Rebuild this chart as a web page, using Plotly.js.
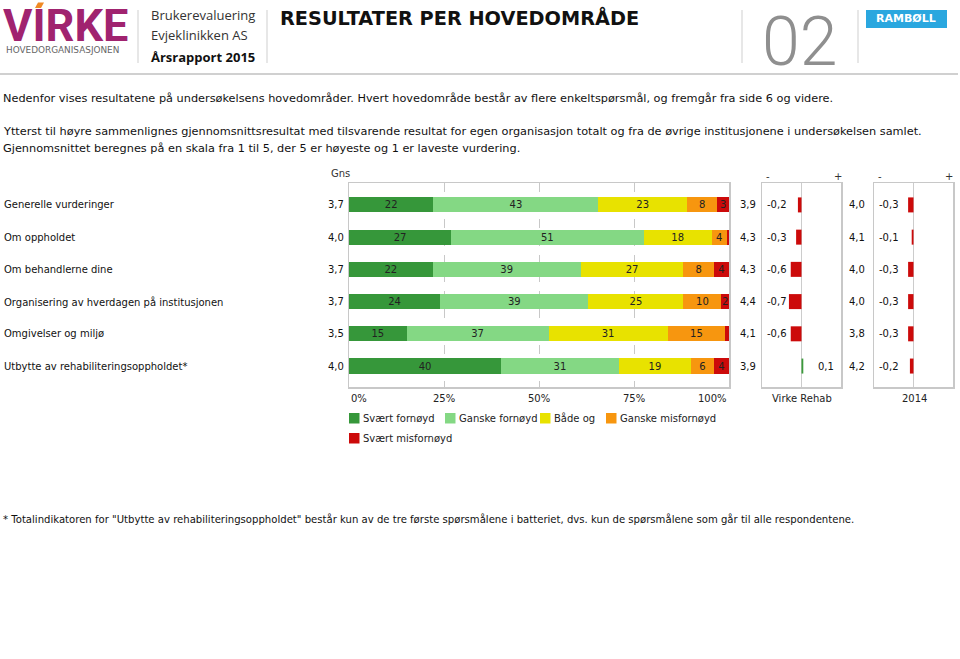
<!DOCTYPE html>
<html>
<head>
<meta charset="utf-8">
<script src="https://cdn.plot.ly/plotly-3.0.1.min.js"></script>
<style>html,body{margin:0;padding:0;background:#fff;}#chart{width:960px;height:659px;}</style>
</head>
<body>
<div id="chart"></div>
<script>
// ---- data ----
var categories = ["Generelle vurderinger", "Om oppholdet", "Om behandlerne dine",
  "Organisering av hverdagen på institusjonen", "Omgivelser og miljø", "Utbytte av rehabiliteringsoppholdet*"];
var seriesNames = ["Svært fornøyd", "Ganske fornøyd", "Både og", "Ganske misfornøyd", "Svært misfornøyd"];
var svaertFornoyd   = [22, 27, 22, 24, 15, 40];
var ganskeFornoyd   = [43, 51, 39, 39, 37, 31];
var baadeOg         = [23, 18, 27, 25, 31, 19];
var ganskeMisfornoyd= [8, 4, 8, 10, 15, 6];
var svaertMisfornoyd= [3, 0.6, 4, 2, 1, 4];
var gns        = [3.7, 4.0, 3.7, 3.7, 3.5, 4.0];
var virkeRehab = [3.9, 4.3, 4.3, 4.4, 4.1, 3.9];
var diffVirke  = [-0.2, -0.3, -0.6, -0.7, -0.6, 0.1];
var aar2014    = [4.0, 4.1, 4.0, 4.0, 3.8, 4.2];
var diff2014   = [-0.3, -0.1, -0.3, -0.3, -0.3, -0.2];
var pctTicks   = [0, 25, 50, 75, 100];
var pctTickLabels = ["0%", "25%", "50%", "75%", "100%"];

var colors = ["#36973a", "#84d884", "#e8e200", "#f7960f", "#cc0a0a"];
var FONT = "DejaVu Sans";
var W = 960, H = 659;
function px(x){ return x / W; }
function py(y){ return 1 - y / H; }
function fmt(v){ return v.toFixed(1).replace('.', ','); }

var series = [svaertFornoyd, ganskeFornoyd, baadeOg, ganskeMisfornoyd, svaertMisfornoyd];
var traces = [];
series.forEach(function(vals, k){
  traces.push({
    type: 'bar', orientation: 'h', name: seriesNames[k],
    x: vals, y: categories, xaxis: 'x', yaxis: 'y',
    width: 0.47,
    marker: {color: colors[k], line: {width: 0}},
    text: vals.map(function(v){ return v >= 2 ? String(Math.round(v)) : ''; }),
    textposition: 'inside', insidetextanchor: 'middle', constraintext: 'none', textangle: 0,
    textfont: {family: FONT, size: 10, color: '#222'},
    hoverinfo: 'skip', showlegend: false, cliponaxis: false
  });
});

function diffTraces(diffs, xa, ya){
  var out = [];
  [[function(v){return v < 0;}, '#cc0a0a'], [function(v){return v >= 0;}, '#3b9a3b']].forEach(function(p){
    var xs = [], ys = [];
    diffs.forEach(function(v, i){ if (p[0](v)) { xs.push(0, v, null); ys.push(categories[i], categories[i], null); } });
    out.push({type: 'scatter', mode: 'lines', x: xs, y: ys, xaxis: xa, yaxis: ya,
      line: {color: p[1], width: 15}, hoverinfo: 'skip', showlegend: false});
  });
  return out;
}
traces = traces.concat(diffTraces(diffVirke, 'x2', 'y2'), diffTraces(diff2014, 'x3', 'y3'));

var ann = [];
function A(text, x, y, o){
  o = o || {};
  var a = {text: text, x: px(x), y: py(y), xref: 'paper', yref: 'paper', showarrow: false,
    xanchor: o.xa || 'left', yanchor: o.ya || 'middle',
    font: {family: o.family || FONT, size: o.size || 10, color: o.color || '#111', weight: o.weight || 'normal'}};
  if (o.h) { a.height = o.h; a.valign = 'middle'; }
  ann.push(a);
}
// header
A('VIRKE', 1, 26, {family: 'Roboto', size: 45, weight: 'bold', color: '#a0236f', h: 37});
A('HOVEDORGANISASJONEN', 4, 50, {size: 8.9, color: '#666'});
A('Brukerevaluering', 149, 15, {family: 'Open Sans', size: 13, color: '#333'});
A('Evjeklinikken AS', 149, 35, {family: 'Open Sans', size: 13, color: '#333'});
A('Årsrapport 2015', 149, 57, {family: 'Open Sans', size: 13, weight: 'bold', color: '#111'});
A('RESULTATER PER HOVEDOMRÅDE', 278, 18, {family: 'DejaVu Sans', size: 19.3, weight: 'bold', color: '#111'});
A('02', 799, 42, {family: 'Roboto', size: 68, weight: 300, color: '#8f8f8f', xa: 'center'});
A('RAMBØLL', 906, 19, {family: 'DejaVu Sans', size: 11, weight: 'bold', color: '#fff', xa: 'center'});
// intro
var IS = 11.3;
A('Nedenfor vises resultatene på undersøkelsens hovedområder. Hvert hovedområde består av flere enkeltspørsmål, og fremgår fra side 6 og videre.', 1, 98, {size: IS});
A('Ytterst til høyre sammenlignes gjennomsnittsresultat med tilsvarende resultat for egen organisasjon totalt og fra de øvrige institusjonene i undersøkelsen samlet.', 1, 131, {size: IS});
A('Gjennomsnittet beregnes på en skala fra 1 til 5, der 5 er høyeste og 1 er laveste vurdering.', 1, 149, {size: IS});
A('* Totalindikatoren for "Utbytte av rehabiliteringsoppholdet" består kun av de tre første spørsmålene i batteriet, dvs. kun de spørsmålene som går til alle respondentene.', 1, 519, {size: 10.1});
// column heads
A('Gns', 329, 174, {color: '#333'});
A('-', 764, 177, {color: '#333'}); A('+', 838, 177, {color: '#333', xa: 'center'});
A('-', 876, 177, {color: '#333'}); A('+', 949, 177, {color: '#333', xa: 'center'});
A('Virke Rehab', 802, 398, {color: '#222', xa: 'center'});
A('2014', 914, 398, {color: '#222', xa: 'center'});

// per-row annotations (data-referenced y)
function R(text, x, cat, xa){
  ann.push({text: text, x: px(x), y: cat, xref: 'paper', yref: 'y', showarrow: false,
    xanchor: xa, yanchor: 'middle', font: {family: FONT, size: 10, color: '#111'}});
}
categories.forEach(function(c, i){
  R(c, 2, c, 'left');
  R(fmt(gns[i]), 346, c, 'right');
  R(fmt(virkeRehab[i]), 758, c, 'right');
  if (diffVirke[i] < 0) R(fmt(diffVirke[i]), 765, c, 'left'); else R(fmt(diffVirke[i]), 836, c, 'right');
  R(fmt(aar2014[i]), 867, c, 'right');
  if (diff2014[i] < 0) R(fmt(diff2014[i]), 877, c, 'left'); else R(fmt(diff2014[i]), 950, c, 'right');
});
// pct tick labels
pctTicks.forEach(function(t, i){
  ann.push({text: pctTickLabels[i], x: t, y: py(398), xref: 'x', yref: 'paper', showarrow: false,
    xanchor: i === 0 ? 'left' : (i === pctTicks.length - 1 ? 'right' : 'center'), yanchor: 'middle',
    font: {family: FONT, size: 10, color: '#222'}});
});

// legend (manual, wrapped like the original)
var shapes = [];
var legPos = [[349, 418], [445, 418], [540, 418], [606, 418], [349, 438]];
seriesNames.forEach(function(n, k){
  var lx = legPos[k][0], ly = legPos[k][1];
  shapes.push({type: 'rect', xref: 'paper', yref: 'paper', x0: px(lx), x1: px(lx + 10.5),
    y0: py(ly - 5), y1: py(ly + 5.5), fillcolor: colors[k], line: {width: 0}});
  A(n, lx + 12, ly, {color: '#222'});
});
// header decoration
function vline(x, y0, y1, col, w){ shapes.push({type: 'line', xref: 'paper', yref: 'paper', x0: px(x), x1: px(x), y0: py(y0), y1: py(y1), line: {color: col, width: w || 1}}); }
vline(138, 10, 63, '#cfcfcf'); vline(267, 10, 63, '#cfcfcf');
vline(742, 10, 63, '#cfcfcf'); vline(858, 10, 63, '#cfcfcf');
shapes.push({type: 'line', xref: 'paper', yref: 'paper', x0: 0, x1: px(958), y0: py(74), y1: py(74), line: {color: '#d0d0d0', width: 2}});
shapes.push({type: 'rect', xref: 'paper', yref: 'paper', x0: px(866), x1: px(947), y0: py(10), y1: py(28), fillcolor: '#2aa7df', line: {width: 0}});
shapes.push({type: 'path', xref: 'paper', yref: 'paper',
  path: 'M' + px(35) + ',' + py(8) + ' L' + px(41) + ',' + py(8) + ' L' + px(44) + ',' + py(2.5) + ' L' + px(38) + ',' + py(2.5) + ' Z',
  fillcolor: '#f08a24', line: {width: 0}});

var yDom = [py(387), py(183)];
var frame = '#c8c8c8';
var layout = {
  width: W, height: H, margin: {l: 0, r: 0, t: 0, b: 0},
  paper_bgcolor: '#fff', plot_bgcolor: '#fff',
  barmode: 'stack', barnorm: 'percent', hovermode: false, showlegend: false,
  font: {family: FONT, size: 10, color: '#111'},
  xaxis: {domain: [px(349), px(729)], range: [0, 100], tickvals: [25, 50, 75], showticklabels: false, ticks: '',
    showgrid: true, gridcolor: '#c8c8c8', griddash: 'dash', gridwidth: 1, zeroline: false,
    showline: true, mirror: true, linecolor: frame, linewidth: 1.5, anchor: 'y'},
  yaxis: {domain: yDom, type: 'category', categoryarray: categories, range: [5.65, -0.68], showticklabels: false,
    ticks: '', showgrid: false, zeroline: false, showline: true, mirror: true, linecolor: frame, linewidth: 1.5, anchor: 'x'},
  xaxis2: {domain: [px(762), px(841)], range: [-2.2, 2.2], showticklabels: false, ticks: '', showgrid: false,
    zeroline: true, zerolinecolor: '#cccccc', zerolinewidth: 1, showline: true, mirror: true, linecolor: frame, linewidth: 1.5, anchor: 'y2'},
  yaxis2: {domain: yDom, matches: 'y', type: 'category', categoryarray: categories, showticklabels: false, ticks: '', showgrid: false,
    zeroline: false, showline: true, mirror: true, linecolor: frame, linewidth: 1.5, anchor: 'x2'},
  xaxis3: {domain: [px(874), px(953)], range: [-2.2, 2.2], showticklabels: false, ticks: '', showgrid: false,
    zeroline: true, zerolinecolor: '#cccccc', zerolinewidth: 1, showline: true, mirror: true, linecolor: frame, linewidth: 1.5, anchor: 'y3'},
  yaxis3: {domain: yDom, matches: 'y', type: 'category', categoryarray: categories, showticklabels: false, ticks: '', showgrid: false,
    zeroline: false, showline: true, mirror: true, linecolor: frame, linewidth: 1.5, anchor: 'x3'},
  annotations: ann, shapes: shapes
};
Plotly.newPlot('chart', traces, layout, {staticPlot: true, displayModeBar: false});
</script>
</body>
</html>
